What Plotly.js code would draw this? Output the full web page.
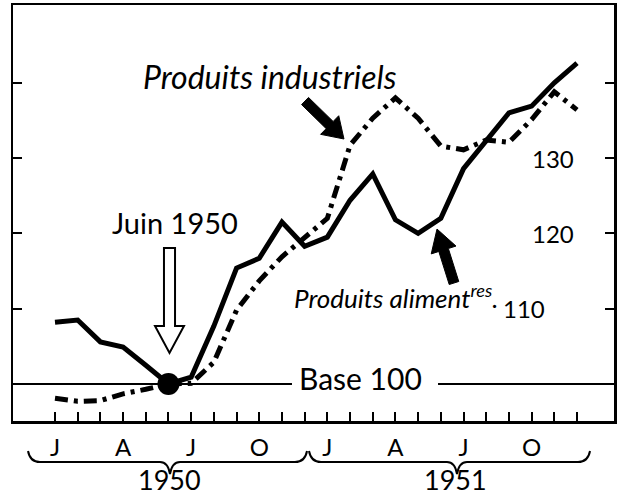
<!DOCTYPE html>
<html><head><meta charset="utf-8">
<script src="https://cdn.plot.ly/plotly-3.0.1.min.js"></script>
<style>html,body{margin:0;padding:0;background:#fff}#chart{width:617px;height:495px}</style>
</head><body><div id="chart"></div>
<script>
// ---- data ----
const months = ['1950-01','1950-02','1950-03','1950-04','1950-05','1950-06','1950-07','1950-08','1950-09','1950-10','1950-11','1950-12',
                '1951-01','1951-02','1951-03','1951-04','1951-05','1951-06','1951-07','1951-08','1951-09','1951-10','1951-11','1951-12'];
const monthTickText = ['J','','','A','','','J','','','O','','','J','','','A','','','J','','','O','',''];
const industriels = [98.1, 97.7, 97.8, 98.7, 99.3, 100, 100.1, 102.9, 109.8, 113.7, 116.9, 119.5,
                     122.0, 131.7, 135.3, 138.0, 135.3, 131.6, 131.1, 132.4, 132.1, 135.1, 138.8, 136.4];
const alimentaires = [108.2, 108.5, 105.6, 104.9, 102.5, 100, 100.9, 107.7, 115.4, 116.7, 121.5, 118.3,
                      119.5, 124.4, 127.9, 121.8, 120.0, 122.0, 128.6, 132.2, 136.0, 136.9, 140.0, 142.6];
const baseMonth = '1950-06';
const baseValue = 100;
const yTickVals = [110, 120, 130, 140];
const yLabelVals = [110, 120, 130];
const yLabelText = ['110', '120', '130'];
const years = ['1950', '1951'];

// ---- geometry helpers (pixel -> paper) ----
const W = 617, H = 495, ML = 13, MR = 3, MT = 5, MB = 74;
const PW = W - ML - MR, PH = H - MT - MB;
const X = px => ((px - ML) / PW).toFixed(4);
const Y = py => ((H - MB - py) / PH).toFixed(4);
function arrowPath(x0, y0, x1, y1, sw, hl, hw) {
  const dx = x1 - x0, dy = y1 - y0, L = Math.hypot(dx, dy);
  const ux = dx / L, uy = dy / L, nx = -uy, ny = ux;
  const bx = x1 - ux * hl, by = y1 - uy * hl;
  const pts = [
    [x0 + nx * sw / 2, y0 + ny * sw / 2], [bx + nx * sw / 2, by + ny * sw / 2],
    [bx + nx * hw / 2, by + ny * hw / 2], [x1, y1],
    [bx - nx * hw / 2, by - ny * hw / 2], [bx - nx * sw / 2, by - ny * sw / 2],
    [x0 - nx * sw / 2, y0 - ny * sw / 2]];
  return 'M ' + pts.map(p => X(p[0]) + ',' + Y(p[1])).join(' L ') + ' Z';
}
function bracePath(xa, xm, xb, ytop, ymid, ytip) {
  return `M ${X(xa)},${Y(ytop)} Q ${X(xa + 2)},${Y(ymid)} ${X(xa + 12)},${Y(ymid)} L ${X(xm - 10)},${Y(ymid)} ` +
         `Q ${X(xm - 2)},${Y(ymid)} ${X(xm)},${Y(ytip)} Q ${X(xm + 2)},${Y(ymid)} ${X(xm + 10)},${Y(ymid)} ` +
         `L ${X(xb - 12)},${Y(ymid)} Q ${X(xb - 2)},${Y(ymid)} ${X(xb)},${Y(ytop)}`;
}

const FONT = 'Lato, "DejaVu Sans", sans-serif';

const traces = [
  { x: months, y: industriels, type: 'scatter', mode: 'lines', name: 'Produits industriels',
    line: { color: '#000', width: 5, dash: '13px,6px,4px,6px' } },
  { x: months, y: alimentaires, type: 'scatter', mode: 'lines', name: 'Produits alimentaires',
    line: { color: '#000', width: 5 } },
  { x: [baseMonth], y: [baseValue], type: 'scatter', mode: 'markers', name: 'Juin 1950',
    marker: { color: '#000', size: 22 } }
];

const yRange = [95.09, 150.33];
const xRange = [-1.85, 24.63];

// right-hand value labels (inside the frame)
const labelRightPx = [547, 576, 576];
const valueLabels = yLabelVals.map((v, i) => ({
  xref: 'paper', yref: 'y', x: X(labelRightPx[i]), y: v, text: yLabelText[i], showarrow: false,
  xanchor: 'right', yanchor: 'middle', font: { size: 24, family: FONT, color: '#000' }
}));

const layout = {
  width: W, height: H,
  margin: { l: ML, r: MR, t: MT, b: MB, pad: 0 },
  paper_bgcolor: '#fff', plot_bgcolor: '#fff',
  showlegend: false,
  font: { family: FONT, color: '#000' },
  xaxis: {
    type: 'category', range: xRange, tickmode: 'array', tickvals: months, ticktext: monthTickText,
    ticks: 'inside', ticklen: 9, tickwidth: 2, tickcolor: '#000',
    showline: true, linewidth: 2.5, linecolor: '#000', mirror: true,
    showgrid: false, zeroline: false, tickfont: { size: 24, family: FONT, color: '#000' }, ticklabelstandoff: 4
  },
  yaxis: {
    range: yRange, tickmode: 'array', tickvals: yTickVals, ticks: 'inside', ticklen: 9, tickwidth: 2,
    tickcolor: '#000', showticklabels: false, showline: true, linewidth: 2.5, linecolor: '#000',
    mirror: 'ticks', showgrid: false, zeroline: false
  },
  shapes: [
    { type: 'line', xref: 'paper', yref: 'y', x0: 0, x1: X(292), y0: 100, y1: 100, line: { color: '#000', width: 2 } },
    { type: 'line', xref: 'paper', yref: 'y', x0: X(438), x1: 1, y0: 100, y1: 100, line: { color: '#000', width: 2 } },
    // hollow arrow "Juin 1950"
    { type: 'path', xref: 'paper', yref: 'paper',
      path: `M ${X(164)},${Y(248)} L ${X(175)},${Y(248)} L ${X(175)},${Y(326)} L ${X(184)},${Y(326)} L ${X(169.5)},${Y(353)} L ${X(155)},${Y(326)} L ${X(164)},${Y(326)} Z`,
      fillcolor: '#fff', line: { color: '#000', width: 2 } },
    // black arrows
    { type: 'path', xref: 'paper', yref: 'paper', path: arrowPath(305, 101, 344, 139, 10, 20, 26),
      fillcolor: '#000', line: { color: '#000', width: 1 } },
    { type: 'path', xref: 'paper', yref: 'paper', path: arrowPath(454, 283, 437, 229, 10, 22, 26),
      fillcolor: '#000', line: { color: '#000', width: 1 } },
    // year braces
    { type: 'path', xref: 'paper', yref: 'paper', path: bracePath(28, 170, 307, 451, 462, 474),
      line: { color: '#000', width: 2 } },
    { type: 'path', xref: 'paper', yref: 'paper', path: bracePath(309, 457, 590, 451, 462, 474),
      line: { color: '#000', width: 2 } }
  ],
  annotations: [
    { xref: 'paper', yref: 'paper', x: X(270), y: Y(76), text: '<i>Produits industriels</i>', showarrow: false,
      font: { size: 32, family: FONT }, xanchor: 'center', yanchor: 'middle' },
    { xref: 'paper', yref: 'paper', x: X(175), y: Y(223), text: 'Juin 1950', showarrow: false,
      font: { size: 29, family: FONT }, xanchor: 'center', yanchor: 'middle' },
    { xref: 'paper', yref: 'paper', x: X(361), y: Y(378), text: 'Base 100', showarrow: false,
      font: { size: 30, family: FONT }, xanchor: 'center', yanchor: 'middle' },
    { xref: 'paper', yref: 'paper', x: X(292), y: Y(297), text: '<i>Produits aliment<sup>res</sup>.</i>', showarrow: false,
      font: { size: 26, family: FONT }, xanchor: 'left', yanchor: 'middle' },
    { xref: 'paper', yref: 'paper', x: X(169), y: Y(480), text: years[0], showarrow: false,
      font: { size: 27, family: FONT }, xanchor: 'center', yanchor: 'middle' },
    { xref: 'paper', yref: 'paper', x: X(456), y: Y(480), text: years[1], showarrow: false,
      font: { size: 27, family: FONT }, xanchor: 'center', yanchor: 'middle' }
  ].concat(valueLabels)
};

Plotly.newPlot('chart', traces, layout, { displayModeBar: false, staticPlot: true });
</script>
</body></html>
